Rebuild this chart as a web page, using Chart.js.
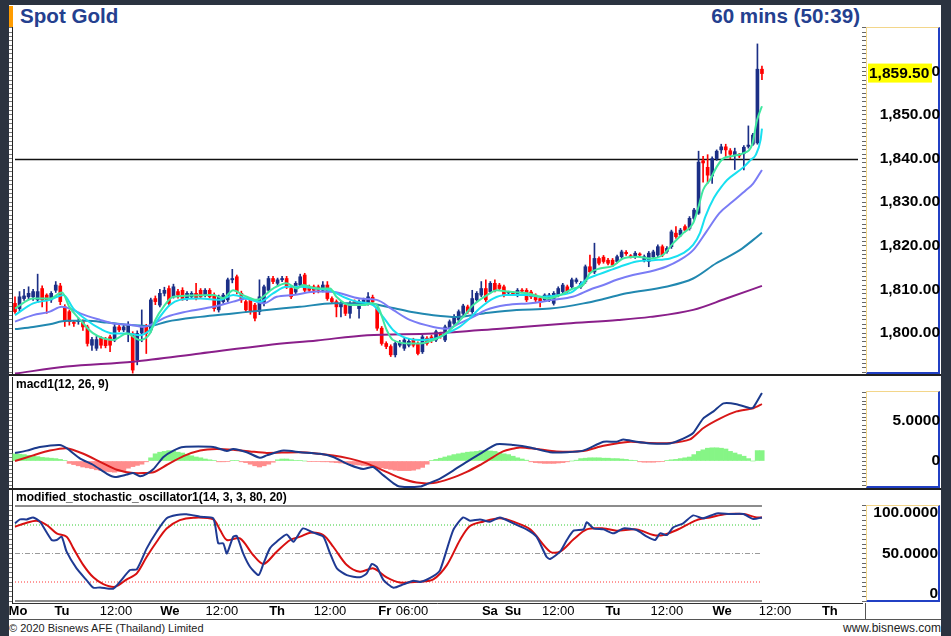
<!DOCTYPE html>
<html>
<head>
<meta charset="utf-8">
<title>Spot Gold 60 mins</title>
<script src="https://cdn.jsdelivr.net/npm/chart.js@4.4.1/dist/chart.umd.min.js"></script>
<style>
  body { margin: 0; width: 951px; height: 636px; background: #2b3340; overflow: hidden; position: relative;
         font-family: Arial, "Liberation Sans", sans-serif; }
  #sheet { position: absolute; left: 9px; top: 5px; width: 932px; height: 631px; background: #fff; }
  canvas { position: absolute; }
  .axisbox { position: absolute; left: 866px; width: 74px; box-sizing: border-box;
             border-left: 1px solid #f3d68a; border-top: 1px solid #f3d68a;
             border-right: 2px solid #2140c4; border-bottom: 2px solid #2140c4; }
  .sep { position: absolute; left: 9px; width: 932px; height: 2px; background: #222; }
  .plabel { position: absolute; left: 16px; font-weight: bold; font-size: 12px; line-height: 14px; color: #000; }
  .title { position: absolute; top: 5px; font-weight: bold; font-size: 20.6px; line-height: 22px; color: #24408f; }
  .foot { position: absolute; top: 622px; font-size: 11px; line-height: 13px; color: #222; }
</style>
</head>
<body>
<div id="sheet"></div>
<div style="position:absolute;left:9px;top:6px;width:4px;height:21px;background:#ff9c00"></div>
<div class="title" style="left:20px">Spot Gold</div>
<div class="title" style="right:91px">60 mins (50:39)</div>

<div class="axisbox" style="top:27px;height:347px"></div>
<div class="axisbox" style="top:391px;height:97px"></div>
<div class="axisbox" style="top:505px;height:97px"></div>
<div style="position:absolute;left:865px;top:603px;width:1px;height:17px;background:#555"></div>

<canvas id="price" width="931" height="347" style="left:9px;top:27px"></canvas>
<canvas id="macd" width="931" height="111" style="left:9px;top:377px"></canvas>
<canvas id="stoch" width="931" height="130" style="left:9px;top:490px"></canvas>

<div class="sep" style="top:374px"></div>
<div class="sep" style="top:488px"></div>
<div style="position:absolute;left:9px;top:619px;width:932px;height:1px;background:#555"></div>

<div class="plabel" style="top:377px">macd1(12, 26, 9)</div>
<div class="plabel" style="top:490px">modified_stochastic_oscillator1(14, 3, 3, 80, 20)</div>

<div class="foot" style="left:9px">© 2020 Bisnews AFE (Thailand) Limited</div>
<div class="foot" style="right:10px;font-size:12px">www.bisnews.com</div>

<script>
// Hourly candles, one per trading hour (index 0 = first bar on the left)
const open = [
  1806.8, 1805.6, 1807.9, 1808.3, 1808.3, 1807.6, 1810.2, 1808.7, 1807.6, 1809.8,
  1810.8, 1806.0, 1804.9, 1802.3, 1802.6, 1802.6, 1801.4, 1797.2, 1796.5, 1798.8,
  1798.5, 1799.1, 1798.4, 1801.4, 1800.7, 1799.9, 1799.9, 1793.8, 1800.0, 1801.4,
  1800.7, 1807.9, 1806.4, 1809.1, 1810.2, 1808.3, 1809.5, 1809.8, 1807.9, 1808.3,
  1809.1, 1809.8, 1808.7, 1809.8, 1808.7, 1805.3, 1807.2, 1807.6, 1812.2, 1812.9,
  1809.1, 1807.2, 1807.6, 1806.4, 1804.9, 1806.8, 1809.8, 1812.5, 1811.4, 1812.2,
  1812.5, 1810.2, 1809.4, 1811.0, 1813.3, 1810.6, 1810.6, 1810.6, 1809.8, 1811.0,
  1807.9, 1807.2, 1806.0, 1806.4, 1804.5, 1807.2, 1805.6, 1806.8, 1806.8, 1808.2,
  1805.6, 1801.1, 1797.6, 1796.9, 1795.0, 1797.2, 1796.5, 1797.2, 1798.4, 1797.6,
  1795.7, 1798.8, 1799.1, 1798.4, 1799.8, 1798.4, 1801.0, 1802.2, 1803.0, 1804.5,
  1806.0, 1804.9, 1807.6, 1808.7, 1810.2, 1809.5, 1811.4, 1811.0, 1810.6, 1809.2,
  1809.1, 1808.7, 1809.8, 1809.8, 1809.4, 1808.7, 1807.9, 1807.6, 1807.6, 1806.8,
  1808.7, 1809.5, 1810.6, 1810.6, 1811.8, 1810.6, 1811.8, 1815.2, 1814.0, 1817.1,
  1817.4, 1816.7, 1816.7, 1816.4, 1817.5, 1818.5, 1817.6, 1817.5, 1818.0, 1816.7,
  1816.4, 1817.5, 1817.9, 1819.8, 1818.7, 1819.8, 1822.9, 1822.5, 1824.4, 1824.0,
  1826.3, 1827.5, 1839.5, 1838.0, 1836.0, 1840.0, 1842.0, 1842.7, 1841.8, 1840.8,
  1840.8, 1841.2, 1842.8, 1843.3, 1843.6, 1860.5
];
const high = [
  1808.3, 1809.5, 1810.0, 1810.6, 1810.0, 1813.5, 1810.8, 1809.0, 1809.5, 1811.8,
  1811.4, 1806.5, 1805.3, 1802.8, 1803.5, 1803.0, 1801.8, 1799.0, 1799.2, 1799.2,
  1799.0, 1799.5, 1802.0, 1802.0, 1802.0, 1802.6, 1800.3, 1800.5, 1805.3, 1802.0,
  1808.0, 1808.5, 1810.0, 1810.5, 1810.8, 1811.2, 1810.0, 1810.4, 1809.5, 1809.5,
  1811.4, 1810.2, 1810.2, 1810.2, 1809.2, 1808.7, 1809.1, 1812.6, 1814.6, 1813.3,
  1809.6, 1807.6, 1808.0, 1806.8, 1812.2, 1811.0, 1813.0, 1813.0, 1812.6, 1813.0,
  1813.0, 1810.6, 1811.8, 1813.5, 1813.7, 1811.0, 1811.0, 1811.0, 1811.8, 1811.8,
  1808.3, 1807.6, 1807.2, 1806.8, 1807.2, 1807.6, 1807.6, 1808.0, 1809.3, 1808.7,
  1806.0, 1801.5, 1798.0, 1797.3, 1798.0, 1798.3, 1799.0, 1798.6, 1798.8, 1798.0,
  1799.5, 1799.2, 1799.5, 1800.7, 1800.2, 1801.8, 1803.0, 1804.2, 1805.3, 1806.6,
  1806.4, 1809.8, 1809.5, 1811.8, 1812.2, 1811.8, 1812.2, 1811.4, 1811.0, 1809.6,
  1809.5, 1810.2, 1810.2, 1810.2, 1809.8, 1809.0, 1808.3, 1809.0, 1809.1, 1809.5,
  1810.6, 1811.4, 1811.0, 1812.6, 1812.6, 1811.8, 1815.6, 1817.9, 1820.6, 1817.5,
  1817.8, 1817.1, 1817.1, 1817.9, 1819.0, 1818.9, 1818.0, 1818.7, 1818.4, 1817.9,
  1818.7, 1819.0, 1820.2, 1820.2, 1819.8, 1823.6, 1824.4, 1824.0, 1824.8, 1826.7,
  1828.6, 1841.7, 1840.5, 1840.9, 1840.4, 1842.0, 1843.3, 1843.3, 1842.3, 1842.4,
  1841.2, 1843.0, 1847.5, 1845.8, 1866.3, 1861.2
];
const low = [
  1804.5, 1805.0, 1807.5, 1807.8, 1807.5, 1807.0, 1806.0, 1804.5, 1807.0, 1809.3,
  1806.5, 1801.5, 1801.8, 1801.5, 1802.0, 1800.6, 1797.0, 1796.0, 1796.0, 1796.5,
  1796.6, 1795.7, 1798.0, 1800.3, 1800.3, 1798.0, 1790.8, 1792.7, 1798.0, 1795.3,
  1800.2, 1806.5, 1806.0, 1808.5, 1806.2, 1808.0, 1808.0, 1807.5, 1807.5, 1808.0,
  1807.6, 1807.9, 1808.3, 1808.0, 1805.0, 1804.8, 1806.8, 1807.2, 1811.5, 1809.0,
  1807.0, 1804.8, 1804.3, 1802.8, 1804.2, 1806.2, 1809.5, 1811.3, 1810.8, 1811.8,
  1810.2, 1807.9, 1809.0, 1810.6, 1809.4, 1809.4, 1809.0, 1809.2, 1809.4, 1807.5,
  1806.8, 1803.7, 1803.7, 1804.0, 1803.4, 1806.4, 1803.4, 1806.4, 1806.4, 1806.8,
  1800.6, 1797.2, 1796.4, 1794.6, 1794.5, 1796.8, 1796.0, 1796.8, 1796.8, 1795.0,
  1795.3, 1797.2, 1797.8, 1798.0, 1798.8, 1798.0, 1800.6, 1801.8, 1802.6, 1804.0,
  1804.5, 1804.5, 1807.2, 1808.3, 1807.2, 1809.1, 1809.4, 1809.8, 1808.3, 1808.9,
  1808.7, 1808.3, 1809.2, 1807.2, 1807.9, 1807.2, 1806.0, 1807.2, 1807.2, 1806.4,
  1808.3, 1809.1, 1809.1, 1810.2, 1811.4, 1810.2, 1811.4, 1813.6, 1813.6, 1815.6,
  1816.0, 1815.6, 1815.2, 1816.0, 1817.1, 1817.8, 1817.2, 1817.1, 1817.5, 1816.3,
  1815.2, 1817.1, 1817.5, 1817.5, 1818.3, 1819.4, 1821.7, 1822.1, 1823.2, 1823.6,
  1825.9, 1827.2, 1834.6, 1834.3, 1834.3, 1839.6, 1841.2, 1840.4, 1840.0, 1837.5,
  1840.2, 1837.4, 1842.4, 1843.0, 1843.3, 1858.1
];
const close = [
  1804.9, 1808.3, 1808.5, 1809.1, 1809.5, 1809.5, 1807.6, 1807.6, 1809.1, 1811.0,
  1807.2, 1802.6, 1802.6, 1802.2, 1802.9, 1801.4, 1797.6, 1798.5, 1798.5, 1797.2,
  1797.1, 1797.2, 1801.4, 1800.7, 1801.4, 1801.8, 1791.5, 1799.9, 1801.6, 1799.9,
  1807.6, 1807.2, 1809.1, 1809.8, 1806.8, 1810.6, 1808.7, 1807.9, 1809.1, 1809.1,
  1808.0, 1808.3, 1809.8, 1808.3, 1805.6, 1808.3, 1808.7, 1812.2, 1812.5, 1809.5,
  1807.6, 1805.3, 1804.9, 1803.4, 1808.3, 1810.6, 1812.5, 1811.8, 1812.2, 1812.5,
  1810.6, 1808.3, 1811.4, 1812.9, 1809.8, 1809.8, 1809.8, 1809.8, 1811.0, 1807.9,
  1807.2, 1806.0, 1806.8, 1804.5, 1806.8, 1806.8, 1807.2, 1807.6, 1808.3, 1807.2,
  1801.1, 1797.6, 1796.9, 1795.0, 1797.6, 1797.8, 1798.4, 1798.1, 1797.2, 1795.3,
  1799.1, 1797.6, 1798.4, 1800.3, 1799.2, 1801.4, 1802.6, 1803.7, 1804.9, 1806.2,
  1804.9, 1807.9, 1809.1, 1810.2, 1807.6, 1811.4, 1809.8, 1810.2, 1808.7, 1809.3,
  1809.0, 1809.8, 1809.6, 1807.6, 1808.3, 1807.6, 1807.2, 1808.7, 1808.7, 1809.1,
  1810.2, 1811.0, 1809.5, 1812.2, 1812.2, 1811.4, 1815.2, 1814.0, 1817.1, 1816.0,
  1816.4, 1816.0, 1815.6, 1817.5, 1818.6, 1818.2, 1817.5, 1818.3, 1817.9, 1817.5,
  1818.3, 1818.6, 1819.8, 1817.9, 1819.4, 1823.2, 1822.1, 1823.6, 1823.6, 1826.3,
  1828.2, 1839.2, 1839.0, 1836.2, 1840.0, 1841.7, 1842.7, 1842.0, 1841.0, 1841.6,
  1840.6, 1842.6, 1843.1, 1845.4, 1860.5, 1859.5
];

// Moving averages as [bar index, price]
const maFast = [[0,1805.6],[4,1807.9],[7.7,1807.9],[10.4,1809.3],[12,1806],[14.4,1803],[17.3,1799.9],[21.7,1798.4],[24.7,1799.9],[27.6,1798.4],[29.8,1799.9],[31,1803],[32.8,1806],[35,1808.3],[43.8,1808.7],[46,1808],[48.2,1809.8],[50.4,1808.7],[53.4,1807.6],[57,1810.2],[60,1811.4],[62.3,1810.2],[63.6,1811],[66.7,1810.2],[69.6,1810.2],[71,1808.3],[74,1806.4],[77,1806.4],[78.8,1806.8],[80.2,1806],[82.1,1800.7],[83.5,1798.4],[87.3,1797.6],[89.5,1797.6],[92.4,1798.4],[94.6,1799.5],[96.8,1801.4],[99,1803.7],[101.2,1806.4],[104.3,1808.7],[106.5,1809.8],[108.7,1809.5],[113.1,1809.1],[116,1808.3],[117.5,1807.9],[120.4,1808.7],[123.3,1810.2],[125.5,1811],[127,1813.7],[129.2,1814.8],[132.1,1815.4],[134.3,1817.1],[137.4,1817.5],[140.3,1817.1],[143.1,1817.9],[145.4,1820.6],[147.6,1822.9],[149.8,1825.2],[151,1829],[152,1832.8],[153.5,1835.1],[155,1838.1],[156.4,1840],[158.6,1840.6],[160.8,1841.2],[162.8,1843.1],[163.9,1848.8],[165,1852]];
const maCyan = [[0,1804.1],[4,1806.8],[7.7,1807.6],[10.7,1808.7],[12.9,1805.6],[15.8,1803],[18.8,1801],[21.7,1799.9],[24.7,1799.9],[27.6,1799.5],[29.8,1800.7],[32,1803.7],[34.2,1806.4],[36.4,1807.6],[40.9,1807.9],[45.3,1807.6],[48.2,1808.7],[51.2,1807.9],[54.1,1807.2],[57,1809.1],[60,1810.6],[63,1810.6],[66.7,1810.2],[69.6,1809.8],[72.5,1808.3],[75.5,1807.2],[79.1,1806.4],[81.3,1803.7],[83.5,1800.7],[85.7,1799.1],[89.4,1798.4],[93.1,1798.8],[95.3,1799.9],[98.2,1801.4],[100.4,1803.3],[102.6,1805.6],[105.6,1807.9],[108.5,1808.7],[112.9,1808.7],[116.6,1808.3],[120.2,1808.7],[123.2,1809.5],[126.1,1812.2],[129.1,1813.5],[132,1814.6],[133.6,1815.2],[137.3,1816.4],[141,1816.7],[144.7,1817.1],[147.6,1818.3],[149.8,1820.2],[151.3,1822.9],[152.5,1826.7],[154.4,1831],[156.4,1834],[157.3,1835.1],[161,1838.1],[162.5,1839.7],[163.6,1840.8],[164.7,1844.3],[165,1846.9]];
const maMid = [[0,1802.6],[4,1804.1],[7.7,1804.9],[10.3,1806],[12.2,1805.6],[14.4,1804.5],[18.8,1803],[21.7,1802.2],[26.1,1801.8],[28.4,1801.4],[30.6,1802.2],[33.5,1803.7],[37.9,1804.9],[43.8,1806],[48.2,1807.2],[51.2,1807.9],[54.9,1806.8],[57.8,1808.3],[61.5,1808.7],[66.7,1809.5],[70.4,1809.4],[76.2,1807.9],[79.9,1807.6],[83.5,1805.3],[87.2,1803],[92.4,1801.4],[95.3,1801],[98.2,1802.2],[101.2,1803.7],[104.1,1805.3],[108.5,1806.4],[114.4,1806.9],[118.8,1807.6],[123.2,1808.3],[127.6,1810.2],[130,1811],[132.9,1812.2],[136.5,1813.3],[140.3,1814.1],[143.8,1815.2],[146.8,1816.7],[149.8,1819],[152.7,1823.2],[155.6,1827.5],[158.6,1830.2],[161.5,1832.8],[163,1834.2],[165,1837.4]];
const maSlow = [[0,1800.9],[4,1801.4],[7.7,1802],[11.4,1802.8],[15.8,1802.8],[20.3,1802.4],[26.1,1801.8],[29.8,1801.6],[33.5,1802.6],[40.9,1803.7],[48.2,1804.5],[55.6,1805.3],[62.9,1806],[70.4,1806.8],[77.8,1806.8],[82.2,1806],[87.3,1804.9],[92.4,1804.1],[97.6,1803.7],[103.5,1804.5],[110.8,1805.3],[118.2,1805.6],[125.6,1806.8],[130,1807.8],[135.1,1809.1],[143.8,1810.6],[149.8,1812.5],[154.9,1816],[160.1,1819],[163,1821.3],[165,1823]];
const maLong = [[0,1790.7],[11.4,1792.3],[26.1,1793.4],[40.9,1795.3],[55.6,1797.2],[66.7,1798.3],[77.8,1799.5],[92.4,1799.9],[107.2,1801],[121.9,1802.2],[133.2,1803],[140.3,1803.7],[149.8,1805.3],[157.1,1807.9],[165,1810.8]];

// MACD panel
const macdLine = [[0,1.0],[2.6,1.3],[5.5,1.75],[9.9,2.0],[11.4,1.6],[14.4,0.3],[17.3,-0.5],[20.3,-1.6],[22.1,-2.0],[24.7,-1.7],[26.1,-1.5],[27.6,-1.9],[29.1,-1.6],[30.6,-1.0],[32.8,0.5],[35,1.3],[37.2,1.75],[43.8,1.75],[46.8,1.25],[48.2,1.5],[51.2,1.1],[54.1,0.4],[55.6,0.7],[59.3,1.3],[63,1.1],[67.4,0.9],[70.3,0.5],[74,-0.5],[76.9,-1.0],[79.1,-0.75],[81.4,-1.8],[83.6,-2.8],[85,-3.2],[89.5,-3.2],[90.9,-2.9],[93.9,-2.2],[96.8,-1.2],[99.8,-0.1],[102.7,0.9],[106.4,2.1],[110.1,2.0],[113.8,1.7],[118.2,1.1],[121.9,1.1],[125.5,1.3],[130,2.4],[132.9,2.4],[134.4,2.7],[137.3,2.4],[140.3,2.2],[144.7,2.2],[147.6,2.8],[149.8,3.5],[152,5.3],[154.3,6.2],[156.5,7.2],[159.4,7.1],[162.4,6.6],[163.1,6.7],[165,8.5]];
const macdSignal = [[0,0],[4,0.7],[7.7,1.3],[11.4,1.6],[15.1,0.9],[18.8,-0.1],[22.5,-1.1],[26.1,-1.5],[30.6,-1.4],[33.5,-0.5],[37.2,0.6],[40.9,1.3],[44.5,1.5],[48.2,1.4],[51.9,1.2],[55.6,1.0],[63,1.1],[70.3,0.7],[74,0.3],[77.7,-0.3],[81.4,-1.2],[85,-2.1],[88.7,-2.7],[92.4,-2.75],[96.1,-2.2],[99.8,-1.35],[102.7,-0.5],[104.8,0.2],[107.8,1.2],[111.5,1.7],[115.2,1.5],[119.6,1.2],[125.5,1.25],[130,1.9],[135.9,2.4],[140.3,2.25],[144.7,2.25],[149.1,2.7],[152,4.1],[155.7,5.3],[159.4,6.2],[163.1,6.6],[165,7.1]];
const macdHist = [
  0.9, 0.85, 0.8, 0.7, 0.6, 0.55, 0.45, 0.4, 0.35, 0.3, 0.2, 0.05,
  -0.3, -0.45, -0.6, -0.75, -0.85, -0.95, -1.1, -1.2, -1.3, -1.35, -1.4, -1.3, -1.2, -0.9, -0.7, -0.55, -0.4, -0.1,
  0.4, 0.9, 1.1, 1.2, 1.3, 1.25, 1.1, 1.0, 0.8, 0.65, 0.5, 0.4, 0.25, 0.15, 0.05,
  -0.1, -0.1, -0.05, 0.05, 0.05, -0.1, -0.2, -0.4, -0.6, -0.75, -0.6, -0.4, -0.15, 0.15, 0.25, 0.25, 0.15, 0.05, 0.05, 0.0, -0.05, -0.05, -0.05, -0.1, -0.1,
  -0.15, -0.2, -0.25, -0.3, -0.35, -0.45, -0.5, -0.55, -0.6, -0.7, -0.75, -0.85, -0.95, -1.05, -1.15, -1.2, -1.2, -1.2, -1.15, -1.0, -0.8, -0.4,
  0.05, 0.2, 0.35, 0.5, 0.65, 0.8, 0.9, 1.0, 1.1, 1.15, 1.2, 1.3, 1.3, 1.25, 1.2, 1.05, 0.9, 0.8, 0.6, 0.4, 0.25, 0.1,
  -0.1, -0.2, -0.25, -0.3, -0.3, -0.3, -0.25, -0.2, -0.1, 0.0, 0.1,
  0.3, 0.35, 0.4, 0.4, 0.4, 0.35, 0.35, 0.3, 0.3, 0.25, 0.2, 0.1, 0.05,
  -0.1, -0.15, -0.15, -0.15, -0.1, -0.05, 0.05,
  0.15, 0.2, 0.3, 0.4, 0.5, 0.8, 1.2, 1.4, 1.6, 1.65, 1.65, 1.6, 1.5, 1.2, 1.0, 0.8, 0.6, 0.3, 0.0, 1.3, 1.3
];

// Stochastic panel
const stochK = [[0,81.7],[1.1,85.9],[2.6,85.9],[4,88],[5.5,83.5],[8.1,64.2],[9.2,64.2],[10.3,67.7],[11.4,51.9],[13.6,34.3],[15.8,22],[17.3,14],[18.8,14.3],[21.7,12.9],[23.2,20.3],[25.4,32.6],[26.9,33.3],[29.1,55.4],[31.3,72.9],[33.5,87],[35.7,90.5],[37.9,91.2],[40.9,88.7],[43.8,87],[44.9,60.7],[46,60.7],[46.8,50.1],[48.2,67.7],[49,68.4],[50.4,50.1],[51.9,36.1],[53.8,27.3],[54.9,39.6],[56.3,55.4],[57.8,62.4],[60,70.1],[61.5,62.4],[63.6,76.4],[65.9,71.9],[68.1,67.7],[69.6,50.1],[71.1,34.3],[73.3,27.3],[76.2,24.9],[77.7,29.1],[78.8,38.9],[79.9,36.1],[81.4,22],[83.6,14],[85.8,17.5],[88,21.4],[89.5,20],[92.4,26.3],[93.9,32.6],[96.8,74.7],[99,88],[100.5,84.5],[102.7,85.9],[104.9,83.5],[107.1,88],[110.1,81.7],[113,75.4],[115.2,67.7],[117.4,46.6],[118.2,44.2],[120.4,51.9],[121.9,64.2],[123.4,74],[125.6,75.4],[126.3,82.8],[127.8,76.4],[130,75.4],[132.2,71.2],[134.4,76.4],[137.3,74.7],[139.6,67.7],[141.4,64.2],[142.5,71.2],[144,69.4],[145.4,77.5],[147.6,81.7],[149.8,90.1],[152,87],[155,92.2],[157.9,91.5],[160.9,91.5],[163.1,86.3],[165,88]];
const stochD = [[0,78.2],[2.6,82.4],[4.8,84.5],[7,80],[9.2,71.2],[11.4,67.7],[12.9,55.4],[15.1,37.8],[17.3,24.9],[19.5,17.8],[22.1,15],[24.7,22.8],[26.9,29.1],[29.1,46.6],[31.3,62.4],[33.5,76.4],[36.4,85.2],[39.4,87.7],[43.8,85.9],[45.3,74.7],[46.8,64.2],[49.7,65.9],[52.6,48.4],[54.9,38.9],[57.8,51.9],[60.8,64.2],[63,67.7],[65.2,71.9],[68.1,69.4],[70.3,57.1],[73.3,37.8],[76.2,30.8],[79.2,34.3],[82.1,24.9],[85,19.6],[89.5,20.3],[92.4,22.8],[95.4,37.8],[98.3,64.2],[100.5,78.9],[103.4,83.5],[107.1,87],[110.1,83.5],[113.8,75.4],[118.2,51.9],[120.4,51.9],[123.4,64.9],[126.3,75.4],[130,76.4],[132.9,74],[137.3,75.4],[141,69.4],[143.2,69.4],[146.2,74.7],[150.6,85.2],[153.5,88],[157.2,91.5],[160.9,91.5],[163.8,88],[165,88]];
const stochLevels = [100, 80, 50, 20, 0];

// Axis labels
const supportLevel = 1840;
const priceLabelValues = [1800, 1810, 1820, 1830, 1840, 1850, 1860];
const macdLabelValues = [0, 5];
const stochLabelValues = [0, 50, 100];
const xTickPos = [0.66, 10.4, 22.3, 34.2, 45.7, 57.9, 69.6, 81.7, 87.7, 104.9, 110, 120, 132.1, 144, 156.2, 167.9, 180];
const xTickLabels = ['Mo', 'Tu', '12:00', 'We', '12:00', 'Th', '12:00', 'Fr', '06:00', 'Sa', 'Su', '12:00', 'Tu', '12:00', 'We', '12:00', 'Th'];

// ---- styling / helpers ----
const NAVY = '#1b2f86', RED = '#ff0000';
const FONT = 'Arial, "Liberation Sans", sans-serif';
Chart.defaults.font.family = FONT;
Chart.defaults.color = '#000';

const xMin = -0.663, xMax = 187.1;
const pts = arr => arr.map(([x, y]) => ({ x, y }));
const fmtPrice = v => v.toLocaleString('en-US', { minimumFractionDigits: 2, maximumFractionDigits: 2 });
const fmtOsc = v => v === 0 ? '0' : v.toFixed(4);
const stepTicks = (from, to, step) => s => {
  s.ticks = [];
  for (let v = from; v <= to + 1e-9; v += step) s.ticks.push({ value: +v.toFixed(3) });
};
const fixWidth = w => s => { s.width = w; s.paddingTop = 0; s.paddingBottom = 0; };

function baseOptions(yMin, yMax, tickFn, rightTicks) {
  return {
    responsive: false, animation: false, devicePixelRatio: 1,
    layout: { padding: 0 },
    plugins: { legend: { display: false }, tooltip: { enabled: false } },
    scales: {
      x: { type: 'linear', min: xMin, max: xMax, offset: false, display: false },
      y: {
        position: 'right', min: yMin, max: yMax, beginAtZero: false,
        afterBuildTicks: tickFn,
        ticks: rightTicks,
        grid: { drawOnChartArea: false, tickLength: 4, color: '#666' },
        border: { display: false },
        afterFit: fixWidth(78)
      },
      yl: {
        position: 'left', min: yMin, max: yMax,
        afterBuildTicks: tickFn,
        ticks: { display: false },
        grid: { drawOnChartArea: false, tickLength: 3, color: '#777' },
        border: { display: true, color: '#222' },
        afterFit: fixWidth(3)
      }
    }
  };
}
const line = (data, color, order, extra) => Object.assign({
  type: 'line', data: pts(data), borderColor: color, borderWidth: 2,
  pointRadius: 0, cubicInterpolationMode: 'monotone', order
}, extra || {});

// ---- price panel ----
const candleColor = close.map((c, i) => c >= open[i] ? NAVY : RED);
const lastClose = close[close.length - 1];

const priceDecor = {
  id: 'priceDecor',
  beforeDatasetsDraw(chart) {
    const { ctx, chartArea, scales: { x, y } } = chart;
    const py = Math.round(y.getPixelForValue(supportLevel)) + 0.5;
    ctx.save();
    ctx.strokeStyle = '#111';
    ctx.lineWidth = 1.6;
    ctx.beginPath();
    ctx.moveTo(x.getPixelForValue(0), py);
    ctx.lineTo(chartArea.right - 4, py);
    ctx.stroke();
    ctx.restore();
  },
  afterDraw(chart) {
    const { ctx, scales: { y } } = chart;
    const py = y.getPixelForValue(lastClose);
    ctx.save();
    ctx.fillStyle = '#ffff00';
    ctx.fillRect(y.left + 6, py - 10, 64, 19);
    ctx.fillStyle = '#000';
    ctx.font = 'bold 15.5px ' + FONT;
    ctx.textAlign = 'left';
    ctx.textBaseline = 'middle';
    ctx.fillText(fmtPrice(lastClose), y.left + 7, py);
    ctx.restore();
  }
};

new Chart(document.getElementById('price'), {
  type: 'bar',
  data: {
    datasets: [
      line(maFast, '#3fe8a0', 0),
      line(maCyan, '#18e0f0', 0),
      line(maMid, '#7a7cf5', 1),
      line(maSlow, '#2188b0', 1),
      line(maLong, '#8a1f8a', 1),
      { type: 'bar', data: close.map((c, i) => ({ x: i, y: [open[i], c] })), backgroundColor: candleColor,
        barThickness: 3, grouped: false, minBarLength: 1, order: 2 },
      { type: 'bar', data: close.map((c, i) => ({ x: i, y: [low[i], high[i]] })), backgroundColor: candleColor,
        barThickness: 1, grouped: false, order: 3 }
    ]
  },
  options: baseOptions(1790.6, 1870.18, stepTicks(1791, 1870, 1), {
    autoSkip: false, crossAlign: 'far', padding: 11,
    font: { size: 15.5, weight: 'bold' },
    callback: v => priceLabelValues.includes(v) ? fmtPrice(v) : ''
  }),
  plugins: [priceDecor]
});

// ---- MACD panel ----
new Chart(document.getElementById('macd'), {
  type: 'bar',
  data: {
    datasets: [
      line(macdLine, '#1b3a8c', 0, { tension: 0.2, cubicInterpolationMode: 'default' }),
      line(macdSignal, '#d81818', 0, { tension: 0.2, cubicInterpolationMode: 'default' }),
      { type: 'bar', data: macdHist.map((v, i) => ({ x: i, y: v })),
        backgroundColor: macdHist.map(v => v >= 0 ? '#86f586' : '#ff8c8c'),
        barPercentage: 1, categoryPercentage: 1, grouped: false, order: 2 }
    ]
  },
  options: baseOptions(-3.375, 10.5, stepTicks(-3, 8.5, 0.5), {
    autoSkip: false, crossAlign: 'far', padding: 24,
    font: { size: 15.5, weight: 'bold' },
    callback: v => macdLabelValues.includes(v) ? fmtOsc(v) : ''
  })
});

// ---- stochastic panel ----
const levelStyle = {
  100: { c: '#8c8c8c', w: 2, d: [] },
  80: { c: '#33cc33', w: 1, d: [1, 2] },
  50: { c: '#9a9a9a', w: 1, d: [5, 2, 1, 2] },
  20: { c: '#ff3333', w: 1, d: [1, 2] },
  0: { c: '#8c8c8c', w: 2, d: [] }
};
const lastIdx = close.length - 1;
const stochAxisText = {
  id: 'stochAxisText',
  afterDraw(chart) {
    const { ctx, scales: { y } } = chart;
    const top = y.getPixelForValue(100), bot = y.getPixelForValue(0);
    ctx.save();
    ctx.font = 'bold 15.5px ' + FONT;
    ctx.fillStyle = '#000';
    ctx.textAlign = 'right';
    ctx.textBaseline = 'middle';
    stochLabelValues.forEach(v => {
      const py = Math.min(Math.max(y.getPixelForValue(v), top + 7), bot - 7);
      ctx.fillText(fmtOsc(v), y.right - 2, py);
    });
    ctx.restore();
  }
};

const stochOpts = baseOptions(-2.1, 116.84, stepTicks(0, 100, 5), { display: false });
stochOpts.scales.x = {
  type: 'linear', min: xMin, max: xMax, offset: false, position: 'bottom',
  afterBuildTicks: s => { s.ticks = xTickPos.map(v => ({ value: v })); },
  ticks: {
    autoSkip: false, maxRotation: 0, padding: 1, color: '#000',
    callback: (v, i) => xTickLabels[i],
    font: ctx => ({ size: 13, weight: /^[A-Z]/.test(xTickLabels[ctx.index] || '') ? 'bold' : 'normal' })
  },
  grid: { display: false, drawTicks: false },
  border: { display: true, color: '#333' },
  afterFit: s => { s.height = 17; s.paddingLeft = 0; s.paddingRight = 0; }
};

new Chart(document.getElementById('stoch'), {
  type: 'line',
  data: {
    datasets: [
      line(stochK, '#1f3a93', 0, { tension: 0.2, cubicInterpolationMode: 'default' }),
      line(stochD, '#d81010', 0, { tension: 0.3, cubicInterpolationMode: 'default' }),
      ...stochLevels.map(lv => ({
        type: 'line', data: [{ x: 0, y: lv }, { x: lastIdx, y: lv }],
        borderColor: levelStyle[lv].c, borderWidth: levelStyle[lv].w, borderDash: levelStyle[lv].d,
        pointRadius: 0, order: 5
      }))
    ]
  },
  options: stochOpts,
  plugins: [stochAxisText]
});
</script>
</body>
</html>
